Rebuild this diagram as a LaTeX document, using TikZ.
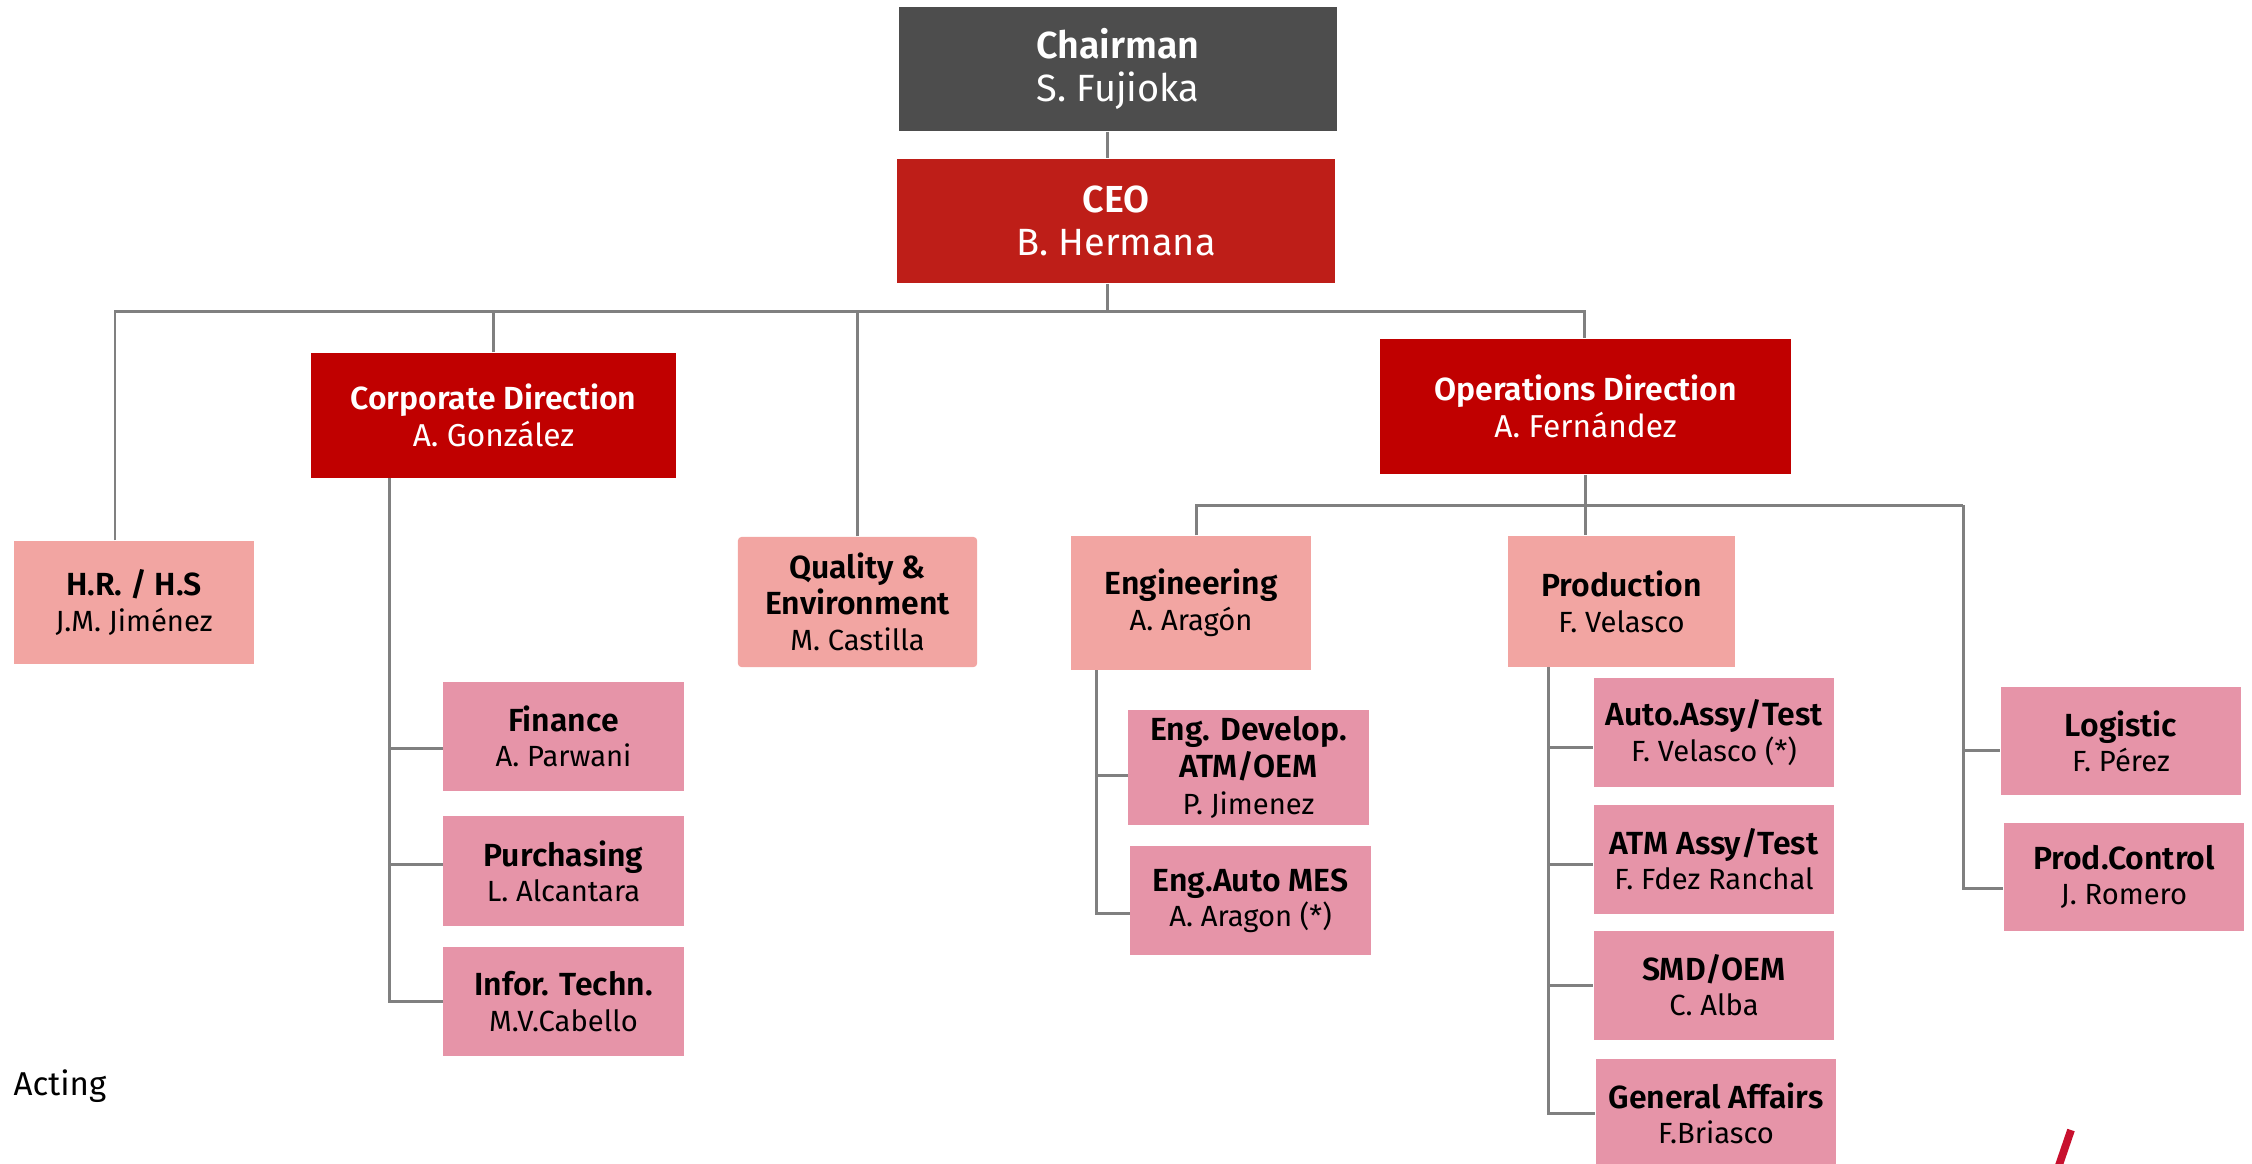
\documentclass[tikz,border=0pt]{standalone}
\usepackage{fontspec}
\setmainfont{Fira Sans}[BoldFont={* SemiBold}]
\usetikzlibrary{positioning, calc}

\definecolor{chairgray}{HTML}{4D4D4D}
\definecolor{ceored}{HTML}{BE1E18}
\definecolor{dirred}{HTML}{C00000}
\definecolor{salmon}{HTML}{F2A5A2}
\definecolor{rose}{HTML}{E694A8}
\definecolor{linegray}{HTML}{808080}
\definecolor{crimson}{HTML}{C8102E}

\newcommand{\hd}[2][9.1]{{\fontsize{#1}{10}\selectfont\bfseries #2}}

\begin{document}
\begin{tikzpicture}[x=0.01cm, y=-0.01cm,
    % Define styles
    box/.style={rectangle, inner sep=0pt, align=center},
    head/.style={box, fill=#1, text=white, minimum width=4.38cm, minimum height=1.24cm, font=\fontsize{10.8}{12.3}\selectfont},
    dir/.style={box, fill=dirred, text=white, font=\fontsize{9}{10.6}\selectfont},
    dept/.style={box, fill=salmon, font=\fontsize{8.3}{10.2}\selectfont},
    unit/.style={box, fill=rose, minimum width=2.4cm, minimum height=1.09cm, font=\fontsize{8.3}{10}\selectfont},
    link/.style={draw=linegray, line width=0.85pt},
    ]

    \useasboundingbox (0,0) rectangle (2252,1163);
    \clip (0,0) rectangle (2252,1163);

    % Top nodes
    \node[head=chairgray] (chair) at (1118,69) {\hd[10.7]{Chairman}\\S. Fujioka};
    \node[head=ceored] (ceo) at (1116,221) {\hd[10.7]{CEO}\\B. Hermana};

    % Directions
    \node[dir, minimum width=3.65cm, minimum height=1.25cm] (corp) at (493.5,415.5) {\hd[9.1]{Corporate Direction}\\A. González};
    \node[dir, minimum width=4.11cm, minimum height=1.35cm] (ops) at (1585.5,406.5) {\hd[9.1]{Operations Direction}\\A. Fernández};

    % Departments
    \node[dept, minimum width=2.4cm, minimum height=1.23cm] (hr) at (134,602.5) {\hd{H.R. / H.S}\\J.M. Jiménez};
    \node[dept, minimum width=2.39cm, minimum height=1.3cm, rounded corners=1pt] (qual) at (857.5,602) {\hd{Quality \&}\\\hd{Environment}\\M. Castilla};
    \node[dept, minimum width=2.4cm, minimum height=1.34cm] (eng) at (1191,603) {\hd{Engineering}\\A. Aragón};
    \node[dept, minimum width=2.27cm, minimum height=1.31cm] (prod) at (1621.5,601.5) {\hd{Production}\\F. Velasco};

    % Units under Corporate Direction
    \node[unit] (fin) at (563.5,736.5) {\hd{Finance}\\A. Parwani};
    \node[unit] (purch) at (563.5,871) {\hd{Purchasing}\\L. Alcantara};
    \node[unit] (infor) at (563.5,1001.5) {\hd{Infor. Techn.}\\M.V.Cabello};

    % Units under Engineering
    \node[unit, minimum height=1.15cm, font=\fontsize{8.3}{10.6}\selectfont] (engdev) at (1248.5,767.5) {\hd{Eng. Develop.}\\\hd{ATM/OEM}\\P. Jimenez};
    \node[unit] (engauto) at (1250.5,900.5) {\hd{Eng.Auto MES}\\A. Aragon (*)};

    % Units under Production
    \node[unit] (auto) at (1714,732.5) {\hd{Auto.Assy/Test}\\F. Velasco (*)};
    \node[unit] (atm) at (1714,859.5) {\hd{ATM Assy/Test}\\F. Fdez Ranchal};
    \node[unit] (smd) at (1714,985.5) {\hd{SMD/OEM}\\C. Alba};
    \node[unit] (genaff) at (1716,1113.5) {\hd{General Affairs}\\F.Briasco};

    % Units on the right
    \node[unit, minimum height=1.08cm] (logi) at (2121,741) {\hd{Logistic}\\F. Pérez};
    \node[unit, minimum height=1.08cm] (pctrl) at (2124,877) {\hd{Prod.Control}\\J. Romero};

    % Top connectors
    \coordinate (c0) at (1107,311);
    \coordinate (bL) at (115,311);
    \coordinate (bR) at (1584,311);
    \draw[link] (chair.south -| c0) -- (ceo.north -| c0);
    \draw[link] (ceo.south -| c0) -- (c0);
    \draw[link] (hr.north -| bL) -- (bL) -- (bR) -- (ops.north -| bR);
    \draw[link] (corp.north) -- (corp.north |- c0);
    \draw[link] (qual.north) -- (qual.north |- c0);

    % Corporate branch
    \coordinate (cs) at (389,478);
    \draw[link] (cs) |- ([yshift=-1.15mm]fin.west);
    \draw[link] (cs) |- ([yshift=0.7mm]purch.west);
    \draw[link] (cs) |- (infor.west);

    % Operations branch
    \coordinate (oL) at (1196,505);
    \coordinate (oR) at (1963,505);
    \draw[link] (ops.south) -- (ops.south |- prod.north);
    \draw[link] (eng.north -| oL) -- (oL) -- (oR);
    \draw[link] (oR) |- ([yshift=-0.9mm]logi.west);
    \draw[link] (oR) |- ([yshift=-1.1mm]pctrl.west);

    % Engineering branch
    \coordinate (es) at (1096,670);
    \draw[link] (es) |- ([yshift=-0.75mm]engdev.west);
    \draw[link] (es) |- ([yshift=-1.25mm]engauto.west);

    % Production branch
    \coordinate (ps) at (1548,667);
    \foreach \u/\dy in {auto/-1.45mm, atm/-0.45mm, smd/0mm, genaff/0mm}
        \draw[link] (ps) |- ([yshift=\dy]\u.west);

    % Note and mark
    \node[anchor=base west, inner sep=0pt, font=\fontsize{9.4}{11}\selectfont] (acting) at (13,1095) {Acting};
    \draw[crimson, line width=2.2pt] (2071,1130) -- (2058,1168);

\end{tikzpicture}
\end{document}
